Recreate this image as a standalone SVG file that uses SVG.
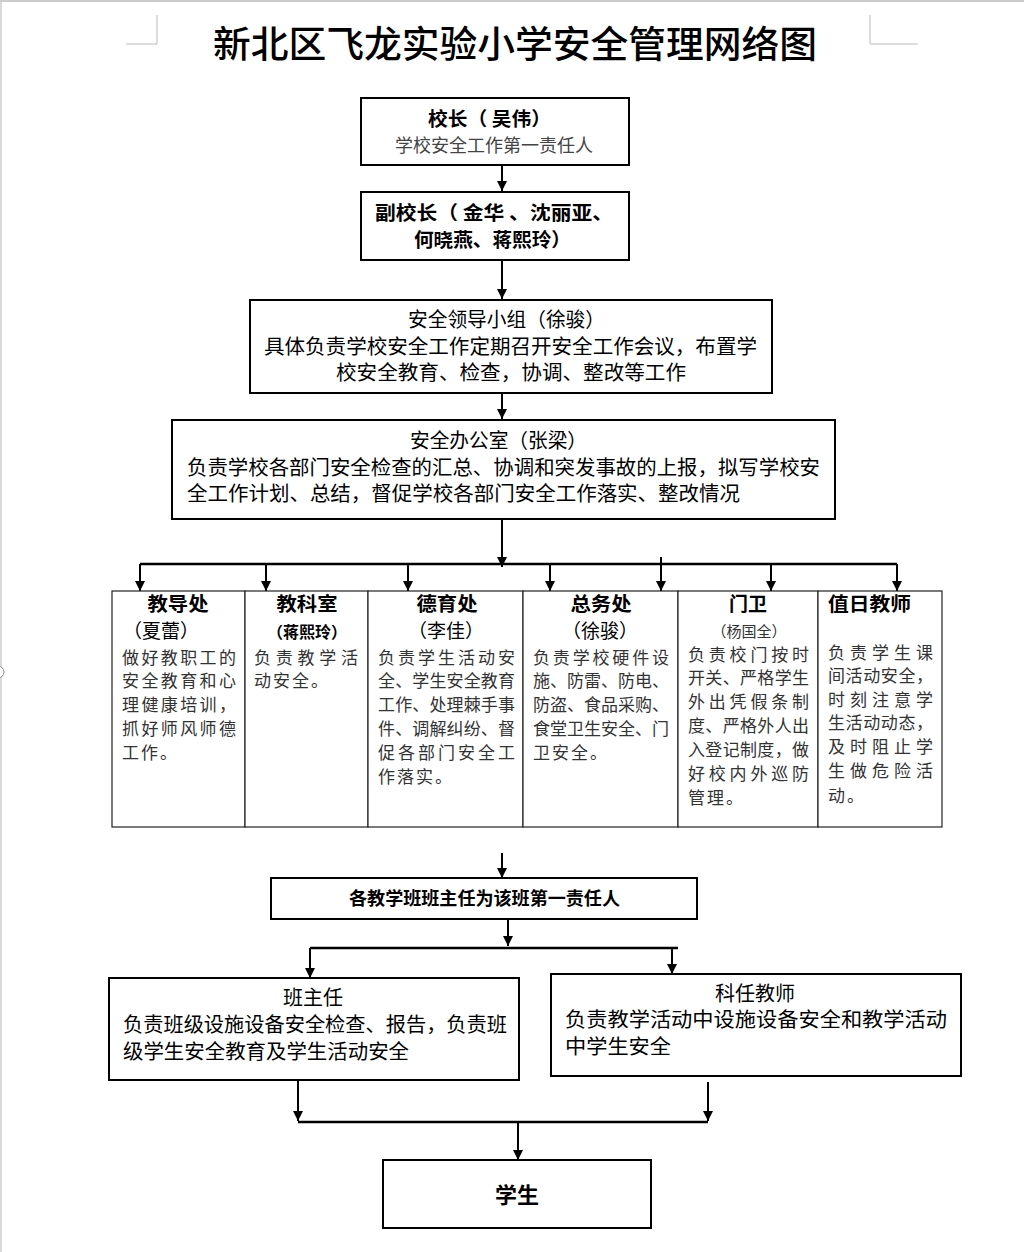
<svg xmlns="http://www.w3.org/2000/svg" width="1024" height="1252" viewBox="0 0 1024 1252">
<defs>
<style>
text{font-family:"Noto Sans CJK SC","Liberation Sans",sans-serif;fill:#000}
.b{font-weight:700}
.h{font-size:19px;font-weight:700}
.body{font-size:17px;fill:#333}
.box{fill:#fff;stroke:#000;stroke-width:2}
.cell{fill:#fff;stroke:#222;stroke-width:1.2}
.con{fill:none;stroke:#000;stroke-width:2}
.thick{fill:none;stroke:#000;stroke-width:2.6}
.mark{fill:none;stroke:#bbb;stroke-width:1}
</style>
<marker id="ah" markerWidth="10" markerHeight="10" refX="10" refY="5" orient="auto" markerUnits="userSpaceOnUse">
<path d="M0,0 L10,5 L0,10 z" fill="#000"/>
</marker>
</defs>
<rect x="0" y="0" width="1024" height="1252" fill="#fff"/>
<line x1="0" y1="1" x2="1024" y2="1" stroke="#ccc" stroke-width="2"/>
<line x1="1" y1="0" x2="1" y2="1252" stroke="#ccc" stroke-width="1.5"/>
<path d="M-2,666 a6,6 0 0 1 0,12" fill="#fff" stroke="#888" stroke-width="1"/>
<g id="corner-marks">
<path class="mark" d="M126,44 H157 V15"/>
<path class="mark" d="M918,44 H870 V15"/>
</g>
<g id="title">
<text x="213" y="58" font-size="37" font-weight="500" textLength="604" lengthAdjust="spacingAndGlyphs">新北区飞龙实验小学安全管理网络图</text>
</g>

<g id="connectors">
<path class="con" d="M502,165 V191" marker-end="url(#ah)"/>
<path class="con" d="M502,260 V299" marker-end="url(#ah)"/>
<path class="con" d="M502,393 V419" marker-end="url(#ah)"/>
<path class="con" d="M502,519 V567" marker-end="url(#ah)"/>
<path class="thick" d="M140,564 H897"/>
<path class="con" d="M140,564 V591" marker-end="url(#ah)"/>
<path class="con" d="M266,564 V591" marker-end="url(#ah)"/>
<path class="con" d="M408,564 V591" marker-end="url(#ah)"/>
<path class="con" d="M550,564 V591" marker-end="url(#ah)"/>
<path class="con" d="M661,557 V591" marker-end="url(#ah)"/>
<path class="con" d="M771,564 V591" marker-end="url(#ah)"/>
<path class="con" d="M897,564 V591" marker-end="url(#ah)"/>
<path class="con" d="M502,853 V878" marker-end="url(#ah)"/>
<path class="con" d="M508,919 V946" marker-end="url(#ah)"/>
<path class="thick" d="M310,948 H678"/>
<path class="con" d="M310,948 V978" marker-end="url(#ah)"/>
<path class="con" d="M672,948 V974" marker-end="url(#ah)"/>
<path class="con" d="M298,1080 V1121" marker-end="url(#ah)"/>
<path class="con" d="M708,1082 V1121" marker-end="url(#ah)"/>
<path class="thick" d="M298,1122 H708"/>
<path class="con" d="M518,1122 V1160" marker-end="url(#ah)"/>
</g>

<g id="principal">
<rect class="box" x="361" y="98" width="268" height="67"/>
<text class="b" x="428" y="126" font-size="19" textLength="123" lengthAdjust="spacingAndGlyphs">校长（ 吴伟）</text>
<text x="395" y="152" font-size="18" style="fill:#444" textLength="198" lengthAdjust="spacingAndGlyphs">学校安全工作第一责任人</text>
</g>

<g id="vice-principals">
<rect class="box" x="361" y="192" width="268" height="68"/>
<text class="b" x="375" y="220" font-size="19" textLength="238" lengthAdjust="spacingAndGlyphs">副校长（ 金华 、沈丽亚、</text>
<text class="b" x="414" y="247" font-size="19" textLength="157" lengthAdjust="spacingAndGlyphs">何晓燕、蒋熙玲）</text>
</g>

<g id="leading-group">
<rect class="box" x="250" y="300" width="522" height="93"/>
<text x="408" y="327" font-size="20" textLength="197" lengthAdjust="spacingAndGlyphs">安全领导小组（徐骏）</text>
<text x="264" y="354" font-size="20" textLength="493" lengthAdjust="spacingAndGlyphs">具体负责学校安全工作定期召开安全工作会议，布置学</text>
<text x="336" y="380" font-size="20" textLength="350" lengthAdjust="spacingAndGlyphs">校安全教育、检查，协调、整改等工作</text>
</g>

<g id="safety-office">
<rect class="box" x="172" y="420" width="663" height="99"/>
<text x="410" y="448" font-size="20" textLength="177" lengthAdjust="spacingAndGlyphs">安全办公室（张梁）</text>
<text x="187" y="475" font-size="20" textLength="633" lengthAdjust="spacingAndGlyphs">负责学校各部门安全检查的汇总、协调和突发事故的上报，拟写学校安</text>
<text x="187" y="501" font-size="20" textLength="553" lengthAdjust="spacingAndGlyphs">全工作计划、总结，督促学校各部门安全工作落实、整改情况</text>
</g>

<g id="dept-teaching">
<rect class="cell" x="112" y="591" width="133" height="236"/>
<text class="h" x="178" y="611" text-anchor="middle" textLength="61" lengthAdjust="spacingAndGlyphs">教导处</text>
<text x="161" y="638" font-size="19" text-anchor="middle">（夏蕾）</text>
<text class="body" x="122" y="664" textLength="114" lengthAdjust="spacing">做好教职工的</text>
<text class="body" x="122" y="687" textLength="114" lengthAdjust="spacing">安全教育和心</text>
<text class="body" x="122" y="711" textLength="114" lengthAdjust="spacing">理健康培训，</text>
<text class="body" x="122" y="735" textLength="114" lengthAdjust="spacing">抓好师风师德</text>
<text class="body" x="122" y="759" letter-spacing="2">工作。</text>
</g>

<g id="dept-research">
<rect class="cell" x="245" y="591" width="123" height="236"/>
<text class="h" x="307" y="611" text-anchor="middle" textLength="61" lengthAdjust="spacingAndGlyphs">教科室</text>
<text class="b" x="307" y="638" font-size="16" text-anchor="middle">（蒋熙玲）</text>
<text class="body" x="254" y="664" textLength="104" lengthAdjust="spacing">负责教学活</text>
<text class="body" x="254" y="687" letter-spacing="2">动安全。</text>
</g>

<g id="dept-moral">
<rect class="cell" x="368" y="591" width="155" height="236"/>
<text class="h" x="447" y="611" text-anchor="middle" textLength="61" lengthAdjust="spacingAndGlyphs">德育处</text>
<text x="446" y="638" font-size="19" text-anchor="middle">（李佳）</text>
<text class="body" x="378" y="664" textLength="137" lengthAdjust="spacing">负责学生活动安</text>
<text class="body" x="378" y="687" textLength="137" lengthAdjust="spacing">全、学生安全教育</text>
<text class="body" x="378" y="711" textLength="137" lengthAdjust="spacing">工作、处理棘手事</text>
<text class="body" x="378" y="735" textLength="137" lengthAdjust="spacing">件、调解纠纷、督</text>
<text class="body" x="378" y="759" textLength="137" lengthAdjust="spacing">促各部门安全工</text>
<text class="body" x="378" y="783" letter-spacing="2">作落实。</text>
</g>

<g id="dept-general">
<rect class="cell" x="523" y="591" width="155" height="236"/>
<text class="h" x="601" y="611" text-anchor="middle" textLength="61" lengthAdjust="spacingAndGlyphs">总务处</text>
<text x="600" y="638" font-size="19" text-anchor="middle">（徐骏）</text>
<text class="body" x="533" y="664" textLength="136" lengthAdjust="spacing">负责学校硬件设</text>
<text class="body" x="533" y="687" textLength="136" lengthAdjust="spacing">施、防雷、防电、</text>
<text class="body" x="533" y="711" textLength="136" lengthAdjust="spacing">防盗、食品采购、</text>
<text class="body" x="533" y="735" textLength="136" lengthAdjust="spacing">食堂卫生安全、门</text>
<text class="body" x="533" y="759" letter-spacing="2">卫安全。</text>
</g>

<g id="dept-gate">
<rect class="cell" x="678" y="591" width="140" height="236"/>
<text class="h" x="748" y="611" text-anchor="middle">门卫</text>
<text x="749" y="637" font-size="15" style="fill:#333" text-anchor="middle">（杨国全）</text>
<text class="body" x="688" y="661" textLength="121" lengthAdjust="spacing">负责校门按时</text>
<text class="body" x="688" y="684" textLength="121" lengthAdjust="spacing">开关、严格学生</text>
<text class="body" x="688" y="708" textLength="121" lengthAdjust="spacing">外出凭假条制</text>
<text class="body" x="688" y="732" textLength="121" lengthAdjust="spacing">度、严格外人出</text>
<text class="body" x="688" y="756" textLength="121" lengthAdjust="spacing">入登记制度，做</text>
<text class="body" x="688" y="780" textLength="121" lengthAdjust="spacing">好校内外巡防</text>
<text class="body" x="688" y="804" letter-spacing="2">管理。</text>
</g>

<g id="dept-duty">
<rect class="cell" x="818" y="591" width="124" height="236"/>
<text class="h" x="828" y="611" textLength="83" lengthAdjust="spacingAndGlyphs">值日教师</text>
<text class="body" x="828" y="659" textLength="105" lengthAdjust="spacing">负责学生课</text>
<text class="body" x="828" y="682" textLength="105" lengthAdjust="spacing">间活动安全，</text>
<text class="body" x="828" y="706" textLength="105" lengthAdjust="spacing">时刻注意学</text>
<text class="body" x="828" y="729" textLength="105" lengthAdjust="spacing">生活动动态，</text>
<text class="body" x="828" y="753" textLength="105" lengthAdjust="spacing">及时阻止学</text>
<text class="body" x="828" y="777" textLength="105" lengthAdjust="spacing">生做危险活</text>
<text class="body" x="828" y="802" letter-spacing="2">动。</text>
</g>

<g id="class-responsibility">
<rect class="box" x="271" y="878" width="426" height="41"/>
<text class="b" x="349" y="905" font-size="18" textLength="271" lengthAdjust="spacingAndGlyphs">各教学班班主任为该班第一责任人</text>
</g>

<g id="head-teacher">
<rect class="box" x="109" y="978" width="410" height="102"/>
<text x="313" y="1005" font-size="20" text-anchor="middle">班主任</text>
<text x="123" y="1032" font-size="20" textLength="384" lengthAdjust="spacingAndGlyphs">负责班级设施设备安全检查、报告，负责班</text>
<text x="123" y="1059" font-size="20" textLength="286" lengthAdjust="spacingAndGlyphs">级学生安全教育及学生活动安全</text>
</g>

<g id="subject-teacher">
<rect class="box" x="551" y="974" width="410" height="102"/>
<text x="755" y="1001" font-size="20" text-anchor="middle">科任教师</text>
<text x="565" y="1027" font-size="20" textLength="382" lengthAdjust="spacingAndGlyphs">负责教学活动中设施设备安全和教学活动</text>
<text x="565" y="1054" font-size="20" textLength="106" lengthAdjust="spacingAndGlyphs">中学生安全</text>
</g>

<g id="students">
<rect class="box" x="383" y="1160" width="268" height="68"/>
<text class="b" x="517" y="1203" font-size="22" text-anchor="middle">学生</text>
</g>
</svg>
